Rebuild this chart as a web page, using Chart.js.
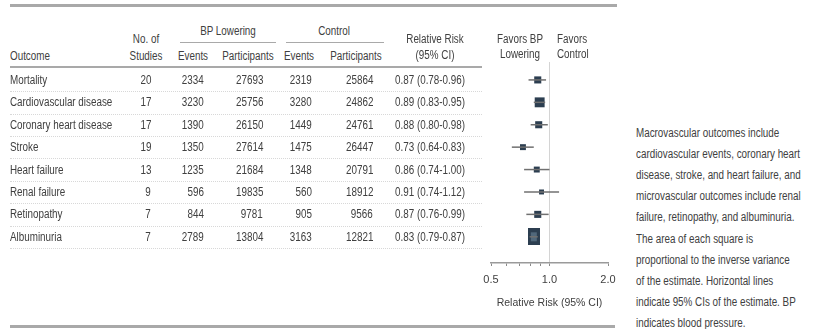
<!DOCTYPE html>
<html>
<head>
<meta charset="utf-8">
<script src="https://cdn.jsdelivr.net/npm/chart.js@4.4.1/dist/chart.umd.min.js"></script>
<style>
  body { margin: 0; background: #fff; width: 826px; height: 329px; overflow: hidden;
         font-family: "Liberation Sans", sans-serif; font-size: 12px; color: #404040; }
  #page { position: relative; width: 826px; height: 329px; }
  .t { position: absolute; white-space: nowrap; line-height: 14px; transform: scaleX(0.82); transform-origin: left center; }
  .t.r { transform-origin: right center; }
  .t.c { transform-origin: center center; }
  .rule { position: absolute; background: #a9a9a9; }
  .dots { position: absolute; height: 0; border-top: 1px dotted #d8d8d8; }
  #plot { position: absolute; left: 470px; top: 0; }
</style>
</head>
<body>
<div id="page">
  <canvas id="plot" width="160" height="320"></canvas>
</div>
<script>
// table + forest data
const outcomes = ['Mortality', 'Cardiovascular disease', 'Coronary heart disease', 'Stroke',
                  'Heart failure', 'Renal failure', 'Retinopathy', 'Albuminuria'];
const studies = [20, 17, 17, 19, 13, 9, 7, 7];
const bpEvents = [2334, 3230, 1390, 1350, 1235, 596, 844, 2789];
const bpParticipants = [27693, 25756, 26150, 27614, 21684, 19835, 9781, 13804];
const ctrlEvents = [2319, 3280, 1449, 1475, 1348, 560, 905, 3163];
const ctrlParticipants = [25864, 24862, 24761, 26447, 20791, 18912, 9566, 12821];
const rr = [0.87, 0.89, 0.88, 0.73, 0.86, 0.91, 0.87, 0.83];
const rrLow = [0.78, 0.83, 0.80, 0.64, 0.74, 0.74, 0.76, 0.79];
const rrHigh = [0.96, 0.95, 0.98, 0.83, 1.00, 1.12, 0.99, 0.87];
const xTicks = [0.5, 0.6, 0.7, 0.8, 0.9, 1.0, 2.0];
const xTickLabels = [0.5, 1.0, 2.0];

const caption = [
  'Macrovascular outcomes include',
  'cardiovascular events, coronary heart',
  'disease, stroke, and heart failure, and',
  'microvascular outcomes include renal',
  'failure, retinopathy, and albuminuria.',
  'The area of each square is',
  'proportional to the inverse variance',
  'of the estimate. Horizontal lines',
  'indicate 95% CIs of the estimate. BP',
  'indicates blood pressure.'
];

const page = document.getElementById('page');
const rowTop = 80, rowStep = 22.4;

function addText(txt, x, y, align) {
  let d = document.createElement('div');
  d.className = 't';
  d.textContent = txt;
  d.style.top = (y - 7) + 'px';
  if (align === 'right') { d.className += ' r'; d.style.right = (826 - x) + 'px'; d.style.textAlign = 'right'; }
  else if (align === 'center') { d.className += ' c'; d.style.left = (x - 60) + 'px'; d.style.width = '120px'; d.style.textAlign = 'center'; }
  else d.style.left = x + 'px';
  page.appendChild(d);
}
function addRule(x1, x2, y, h) {
  let d = document.createElement('div');
  d.className = 'rule';
  d.style.left = x1 + 'px'; d.style.width = (x2 - x1) + 'px';
  d.style.top = y + 'px'; d.style.height = h + 'px';
  page.appendChild(d);
}

/** Header. */
addRule(10, 617, 4, 3);
addText('No. of', 146, 39, 'center');
addText('Studies', 146, 56, 'center');
addText('BP Lowering', 228, 31, 'center');
addRule(180, 276, 42, 1);
addText('Control', 334, 31, 'center');
addRule(286, 384, 42, 1);
addText('Outcome', 10, 56);
addText('Events', 193, 56, 'center');
addText('Participants', 248, 56, 'center');
addText('Events', 299, 56, 'center');
addText('Participants', 356, 56, 'center');
addText('Relative Risk', 435, 39, 'center');
addText('(95% CI)', 435, 55, 'center');
addText('Favors BP', 520, 39, 'center');
addText('Lowering', 520, 54, 'center');
addText('Favors', 557, 39);
addText('Control', 557, 54);
addRule(10, 482, 66, 2);
addRule(10, 615, 325, 3);

/** Rows. */
outcomes.forEach(function(name, i) {
  let y = rowTop + i * rowStep;
  addText(name, 10, y);
  addText(String(studies[i]), 151, y, 'right');
  addText(String(bpEvents[i]), 204, y, 'right');
  addText(String(bpParticipants[i]), 263, y, 'right');
  addText(String(ctrlEvents[i]), 312, y, 'right');
  addText(String(ctrlParticipants[i]), 373, y, 'right');
  addText(rr[i].toFixed(2) + ' (' + rrLow[i].toFixed(2) + '-' + rrHigh[i].toFixed(2) + ')', 395, y);
  let sep = document.createElement('div');
  sep.className = 'dots';
  sep.style.left = '10px'; sep.style.width = '472px';
  sep.style.top = Math.round(y + rowStep / 2) + 'px';
  page.appendChild(sep);
});

caption.forEach(function(line, i) {
  addText(line, 636, 133 + i * 21.1);
});

/** Marker for albuminuria: the big pooled square. */
let bigBox = document.createElement('canvas');
bigBox.width = 12; bigBox.height = 17;
let bctx = bigBox.getContext('2d');
bctx.fillStyle = '#2c3e50';
bctx.fillRect(0, 0, 12, 17);
bctx.fillStyle = '#51687b';
bctx.fillRect(3, 4, 6, 9);

let pointSizes = [5, 7, 5, 4.2, 4.2, 3.5, 5, 8];
let pointStyles = outcomes.map(function(o, i) { return i === 7 ? bigBox : 'rect'; });

/** Construct the CI lines, one per outcome. */
let datasets = [];
outcomes.forEach(function(name, i) {
  datasets.push({
    label: name + ' CI',
    data: [{ x: rrLow[i], y: i }, { x: rrHigh[i], y: i }],
    showLine: true,
    borderColor: '#707070',
    borderWidth: 1.5,
    pointRadius: 0
  });
});
datasets.push({
  label: 'Relative Risk',
  data: rr.map(function(v, i) { return { x: v, y: i }; }),
  pointStyle: pointStyles,
  pointRadius: pointSizes,
  backgroundColor: '#2c3e50',
  borderColor: '#2c3e50',
  borderWidth: 0
});

new Chart(document.getElementById('plot').getContext('2d'), {
  type: 'scatter',
  data: { datasets: datasets },
  options: {
    responsive: false,
    animation: false,
    layout: { padding: { left: 21, right: 22, top: 62, bottom: 9 } },
    plugins: { legend: { display: false }, tooltip: { enabled: false } },
    scales: {
      x: {
        type: 'logarithmic',
        min: 0.5,
        max: 2.0,
        afterBuildTicks: function(scale) {
          scale.ticks = xTicks.map(function(v) { return { value: v }; });
        },
        afterFit: function(scale) { scale.height = 48; },
        border: { display: true, color: '#9a9a9a', width: 1.5 },
        grid: {
          drawOnChartArea: true,
          color: function(ctx) { return ctx.tick && ctx.tick.value === 1 ? '#d4d4d4' : 'rgba(0,0,0,0)'; },
          tickColor: '#8a8a8a',
          tickLength: 3
        },
        ticks: {
          autoSkip: false,
          maxRotation: 0,
          padding: 7,
          color: '#404040',
          font: { family: '"Liberation Sans", sans-serif', size: 11 },
          callback: function(value) {
            return xTickLabels.indexOf(value) >= 0 ? Number(value).toFixed(1) : '';
          }
        },
        title: {
          display: true,
          text: 'Relative Risk (95% CI)',
          color: '#404040',
          padding: { top: 2, bottom: 2 },
          font: { family: '"Liberation Sans", sans-serif', size: 10.5 }
        }
      },
      y: {
        display: false,
        reverse: true,
        min: -0.8,
        max: 8.17
      }
    }
  }
});
</script>
</body>
</html>
